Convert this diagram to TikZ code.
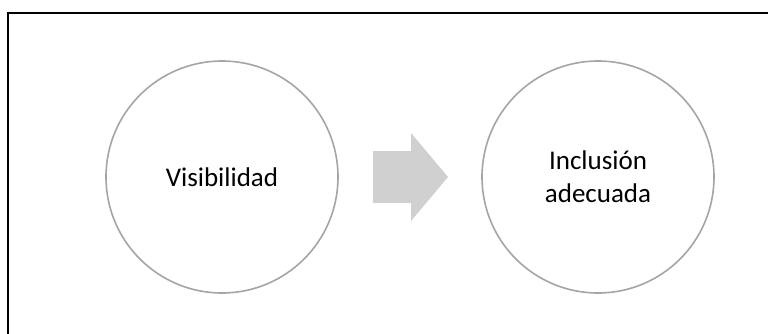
\documentclass[tikz,border=0pt]{standalone}
\usepackage{fontspec}
\setmainfont{Carlito}
\begin{document}
\begin{tikzpicture}[x=1pt,y=-1pt,
  circ/.style={circle,draw=circgray,line width=1.6pt,minimum size=232pt,inner sep=0pt,align=center,font=\fontsize{27}{33}\selectfont,text=black},
  frameline/.style={draw=black,line width=2.6pt}]
\definecolor{circgray}{HTML}{A5A5A5}
\definecolor{arrowgray}{HTML}{D0D0D0}
\useasboundingbox (0,0) rectangle (768,333);
\fill[white] (0,0) rectangle (768,333);
\coordinate (fbl) at (8,340);
\coordinate (ftl) at (8,13);
\coordinate (ftr) at (775,13);
\draw[frameline] (fbl) -- (ftl) -- (ftr);
\node[circ] (vis) at (222,177) {Visibilidad};
\node[circ] (inc) at (598,177) {Inclusión\\adecuada};
\fill[arrowgray] (373,151) -- (411,151) -- (411,133) -- (448,177) -- (411,221) -- (411,203) -- (373,203) -- cycle;
\end{tikzpicture}
\end{document}
